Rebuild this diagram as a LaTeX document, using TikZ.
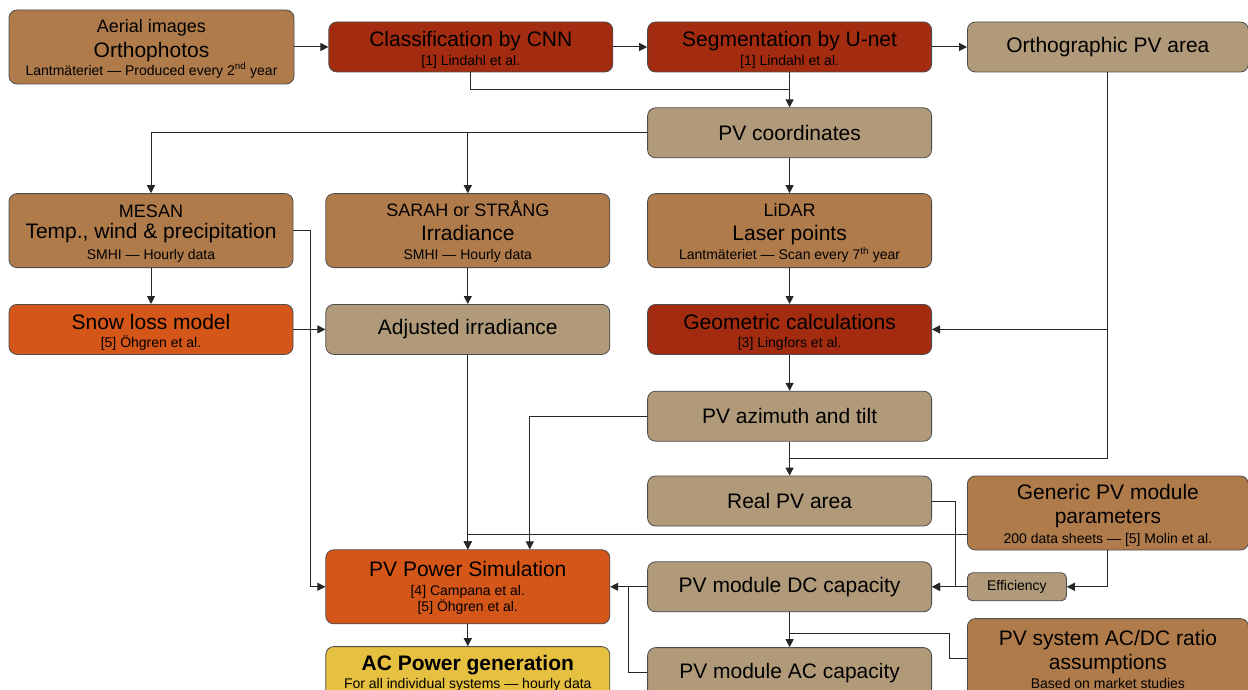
\documentclass[tikz,border=0pt]{standalone}
\usepackage{fontspec}
\setmainfont{Liberation Sans}
\usetikzlibrary{positioning,arrows.meta,calc}

\definecolor{srcbrown}{HTML}{B07B4B}
\definecolor{mlred}{HTML}{A32C10}
\definecolor{datatan}{HTML}{B09A7A}
\definecolor{modelorange}{HTML}{D45618}
\definecolor{resultyellow}{HTML}{E6C040}

\newcommand{\fbig}{\fontsize{21}{21}\selectfont}
\newcommand{\fmid}{\fontsize{18}{21}\selectfont}
\newcommand{\fsmall}{\fontsize{14}{16}\selectfont}
% invisible strut that fixes the height of a first line
\newcommand{\lift}[1]{\rule{0pt}{#1pt}}

\begin{document}
\begin{tikzpicture}[x=1pt, y=-1pt,
    box/.style={draw=black!70, line width=0.8pt, rounded corners=8pt, inner sep=0pt,
                align=center, font=\fbig, minimum width=284pt, minimum height=50pt},
    source/.style={box, fill=srcbrown, minimum height=74pt},
    ml/.style={box, fill=mlred},
    data/.style={box, fill=datatan},
    model/.style={box, fill=modelorange},
    line/.style={draw=black!85, line width=1pt},
    arr/.style={line, -{Triangle[length=8pt, width=8pt]}}]

    \fill [white] (0,0) rectangle (1248,690);
    \useasboundingbox (0,0) rectangle (1248,690);

    % top row
    \node [source, minimum width=285pt] (aerial) at (151.5,47)
          {\lift{16}{\fmid Aerial images}\\[4pt]Orthophotos\\[-3pt]{\fsmall Lantmäteriet — Produced every 2\textsuperscript{nd} year}};
    \node [ml, right=34pt of aerial] (cnn) {\lift{21}Classification by CNN\\[-2.5pt]{\fsmall [1] Lindahl et al.}};
    \node [ml, right=34pt of cnn] (unet) {\lift{21}Segmentation by U-net\\[-2.5pt]{\fsmall [1] Lindahl et al.}};
    \node [data, right=35pt of unet, minimum width=281pt] (ortho) {Orthographic PV area};

    % middle column
    \node [data, below=35pt of unet] (coords) {PV coordinates};
    \node [source, below=35pt of coords] (lidar)
          {\lift{17.5}{\fmid LiDAR}\\[3pt]Laser points\\[-2pt]{\fsmall Lantmäteriet — Scan every 7\textsuperscript{th} year}};
    \node [ml, below=36pt of lidar] (geom) {\lift{21}Geometric calculations\\[-2.5pt]{\fsmall [3] Lingfors et al.}};
    \node [data, below=36pt of geom] (azim) {PV azimuth and tilt};
    \node [data, below=34pt of azim] (area) {Real PV area};
    \node [data, below=35pt of area] (dccap) {PV module DC capacity};
    \node [data, below=35pt of dccap] (accap) {PV module AC capacity};

    % weather data
    \node [source, left=37pt of lidar] (sarah)
          {\lift{17.5}{\fmid SARAH or STRÅNG}\\[3pt]Irradiance\\[-2pt]{\fsmall SMHI — Hourly data}};
    \node [source, left=32pt of sarah] (mesan)
          {\lift{19}{\fmid MESAN}\\[0pt]Temp., wind \& precipitation\\[0pt]{\fsmall SMHI — Hourly data}};
    \node [model, below=36pt of mesan] (snow) {\lift{21}Snow loss model\\[-2.5pt]{\fsmall [5] Öhgren et al.}};
    \node [data, below=36pt of sarah] (adjirr) {Adjusted irradiance};

    % simulation and output
    \node [model, left=37pt of dccap, minimum height=74pt] (sim)
          {\lift{17}PV Power Simulation\\[-2pt]{\fsmall [4] Campana et al.}\\[-5pt]{\fsmall [5] Öhgren et al.}};
    \node [box, fill=resultyellow, below=22pt of sim, minimum height=54pt] (acgen)
          {\lift{14.5}\textbf{AC Power generation}\\[-3.3pt]{\fsmall For all individual systems — hourly data}};

    % right column
    \node [data, right=35pt of dccap, minimum width=99pt, minimum height=28pt, rounded corners=5pt,
           font=\fontsize{14}{16}\selectfont] (eff) {Efficiency};
    \node [source, anchor=north west, minimum width=281pt] (generic) at ([xshift=35pt]area.north east)
          {\lift{20.5}Generic PV module\\[3.3pt]parameters\\[-1pt]{\fsmall 200 data sheets — [5] Molin et al.}};
    \node [source, below=17pt of eff.south west, anchor=north west, minimum width=281pt, minimum height=80pt] (acdc)
          {\lift{17.5}PV system AC/DC ratio\\[3pt]assumptions\\[-1.7pt]{\fsmall Based on market studies}};

    \coordinate (jtop) at ($(unet.south)!0.5!(coords.north)$);
    \coordinate (jarea) at ($(azim.south)!0.5!(area.north)$);
    \coordinate (jcap) at ($(sim.east)!0.5!(dccap.west)$);
    \coordinate (jac) at ($(dccap.south)!0.6!(accap.north)$);

    % straight links
    \draw [arr] (aerial) -- (cnn);
    \draw [arr] (cnn) -- (unet);
    \draw [arr] (unet) -- (ortho);
    \draw [arr] (unet) -- (coords);
    \draw [arr] (coords) -- (lidar);
    \draw [arr] (lidar) -- (geom);
    \draw [arr] (geom) -- (azim);
    \draw [arr] (azim) -- (area);
    \draw [arr] (dccap) -- (accap);
    \draw [arr] (mesan) -- (snow);
    \draw [arr] (sarah) -- (adjirr);
    \draw [arr] (snow) -- (adjirr);
    \draw [arr] (adjirr) -- (sim);
    \draw [arr] (dccap) -- (sim);
    \draw [arr] (eff) -- (dccap);
    \draw [arr] (sim) -- (acgen);

    % elbow links
    \draw [line] (cnn.south) |- (jtop);
    \draw [arr] (coords.west) -| (mesan.north);
    \draw [arr] (coords.west -| sarah.north) -- (sarah.north);
    \draw [arr] (mesan.east) -- ++(17,0) |- (sim.west);
    \draw [arr] (azim.west) -| ([xshift=62pt]sim.north);
    \draw [arr] ([yshift=-21pt]generic.west) -| (sim.north);
    \draw [line] (ortho.south) |- (jarea);
    \draw [arr] (ortho.south |- geom.east) -- (geom.east);
    \draw [arr] (area.east) -- ++(23,0) |- (dccap.east);
    \draw [arr] (generic.south) |- (eff.east);
    \draw [line] (accap.west) -| (jcap);
    \draw [line] (acdc.west) -- ++(-18,0) |- (jac);
\end{tikzpicture}
\end{document}
